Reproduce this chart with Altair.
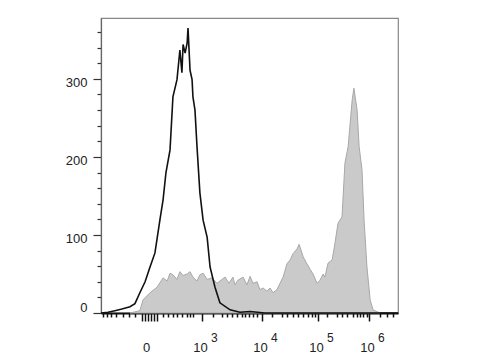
import altair as alt
import pandas as pd

# x in display channel units (0..1024), y = event count
black_x = [0, 24, 48, 72, 100, 117, 134, 152, 169, 186, 203, 214, 224, 238, 248, 262, 272,
           279, 283, 290, 297, 300, 307, 314, 317, 324, 331, 341, 352, 366, 376, 393, 410,
           445, 479, 514, 565, 1024]
black_y = [0, 1, 3, 5, 8, 12, 26, 40, 59, 77, 119, 145, 180, 209, 277, 299, 337,
           308, 344, 333, 346, 365, 311, 299, 277, 260, 213, 154, 119, 97, 59, 33, 13,
           4, 1, 2, 0, 0]

gray_x = [100, 134, 145, 169, 193, 214, 228, 238, 248, 262, 272, 283, 297, 307, 317, 331,
          341, 352, 366, 383, 400, 417, 428, 441, 455, 462, 472, 490, 503, 514, 524, 538,
          548, 559, 572, 583, 593, 607, 617, 628, 641, 652, 662, 676, 683, 697, 710, 721,
          731, 745, 755, 766, 772, 783, 797, 807, 817, 831, 841, 852, 866, 872, 883, 890,
          900, 907, 917, 928, 938, 962]
gray_y = [0, 3, 17, 26, 33, 45, 41, 51, 49, 43, 53, 48, 50, 53, 46, 41,
          49, 51, 43, 45, 38, 43, 46, 38, 46, 36, 42, 46, 36, 47, 38, 40,
          30, 32, 28, 32, 26, 30, 38, 46, 63, 68, 76, 82, 88, 72, 63, 56,
          50, 38, 42, 50, 46, 64, 68, 90, 115, 123, 192, 213, 273, 288, 260, 213,
          183, 119, 59, 17, 4, 0]

zero_pos = 162
decade_pos = [348, 555, 748, 924]
decade_exp = ["3", "4", "5", "6"]
cluster_ticks = [141, 152, 162, 172, 183, 193]
minor_ticks = [7, 21, 34, 52, 76, 97, 117, 214, 231, 248, 262, 279, 297, 307, 317,
               386, 417, 434, 452, 469, 486, 496, 510, 524, 538, 590, 624, 641, 662,
               679, 697, 714, 728, 738, 779, 814, 831, 848, 869, 883, 893, 903, 917,
               962, 986, 1007]
y_ticks = list(range(0, 380, 20))
y_major = [0, 100, 200, 300]

W, H = 297, 295
xdom = [0, 1024]
ydom = [0, 378]

black = pd.DataFrame({"x": black_x, "y": black_y})
gray = pd.DataFrame({"x": gray_x, "y": gray_y})
exps = pd.DataFrame({"x": decade_pos, "e": decade_exp})

long_ticks = cluster_ticks + decade_pos
all_x_ticks = sorted(set(minor_ticks + long_ticks))

x_axis = alt.Axis(
    values=all_x_ticks,
    tickCount=1000,
    title=None,
    grid=False,
    domainColor="#111111",
    domainWidth=2,
    tickColor="#111111",
    tickWidth=1.5,
    tickSize={"condition": {"test": "indexof(%s, datum.value) >= 0" % long_ticks, "value": 8}, "value": 4},
    labelExpr="datum.value == %d ? '0' : (indexof(%s, datum.value) >= 0 ? '10' : '')" % (zero_pos, decade_pos),
    labelOverlap=False,
    labelBound=False,
    labelFlush=False,
    labelPadding=20,
    labelFontSize=13,
    labelFont="Liberation Sans",
    labelColor="#222222",
    labelOffset=-2,
)

y_axis = alt.Axis(
    values=y_ticks,
    tickCount=1000,
    format="d",
    title=None,
    grid=False,
    domainColor="#666666",
    domainWidth=1.2,
    tickColor="#333333",
    tickWidth=1.2,
    tickSize={"condition": {"test": "indexof(%s, datum.value) >= 0" % y_major, "value": 8}, "value": 4},
    labelExpr="indexof(%s, datum.value) >= 0 ? datum.label : ''" % y_major,
    labelOverlap=False,
    labelBound=False,
    labelFlush=False,
    labelPadding=6,
    labelFontSize=13,
    labelFont="Liberation Sans",
    labelColor="#222222",
    labelOffset={"condition": {"test": "datum.value == 0", "value": -6}, "value": 4},
)

xs = alt.Scale(domain=xdom, nice=False, zero=False)
ys = alt.Scale(domain=ydom, nice=False, zero=False)

area = alt.Chart(gray).mark_area(fill="#cacaca", stroke="#a8a8a8", strokeWidth=1).encode(
    x=alt.X("x:Q", scale=xs, axis=x_axis),
    y=alt.Y("y:Q", scale=ys, axis=y_axis),
)

line = alt.Chart(black).mark_line(color="#111111", strokeWidth=1.6).encode(
    x=alt.X("x:Q", scale=xs),
    y=alt.Y("y:Q", scale=ys),
)

sup = alt.Chart(exps).mark_text(
    align="left", baseline="top", dx=9, fontSize=12, font="Liberation Sans", color="#222222"
).encode(
    x=alt.X("x:Q", scale=xs),
    y=alt.value(H + 20),
    text="e:N",
)

chart = alt.layer(area, line, sup).properties(
    width=W,
    height=H,
    autosize=alt.AutoSizeParams(type="none"),
    padding={"left": 101, "top": 18, "right": 82, "bottom": 47},
    background="white",
).configure_view(stroke="#888888", strokeWidth=1.2)

chart.save("out.html", embed_options={"renderer": "svg", "actions": False})
